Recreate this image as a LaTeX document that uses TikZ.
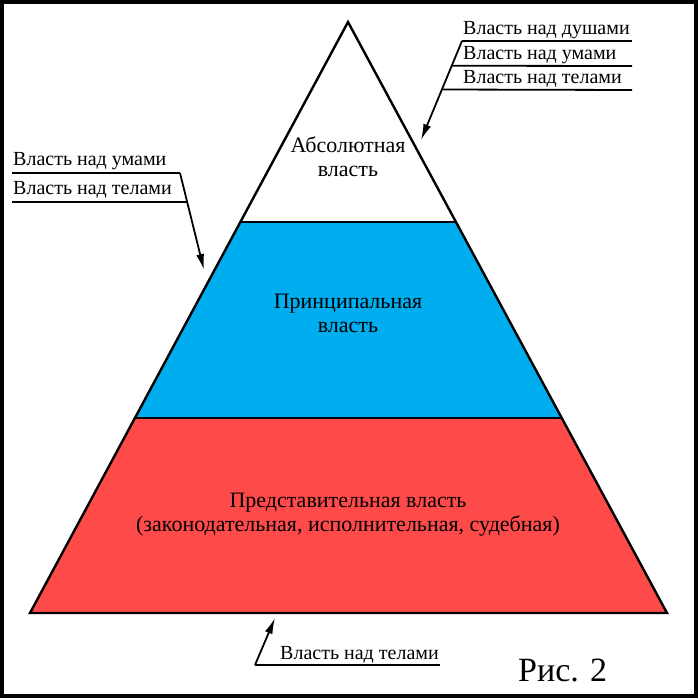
\documentclass[tikz,border=0pt]{standalone}
\usepackage{fontspec}
\setmainfont{Liberation Serif}
\usetikzlibrary{arrows.meta,calc}
\definecolor{tierblue}{HTML}{00AEEF}
\definecolor{tierred}{HTML}{FF4A4A}
\tikzset{
  edge/.style={line width=2.4pt, line join=miter},
  lbl/.style={font=\fontsize{20}{23}\selectfont, inner sep=0pt, anchor=base west},
  tiertext/.style={font=\fontsize{22}{24}\selectfont, align=center, inner sep=0pt},
  uline/.style={line width=1.8pt},
  ptr/.style={line width=1.8pt, -{Latex[length=16pt,width=8pt]}},
}
\begin{document}
\begin{tikzpicture}[x=1pt,y=-1pt]
\useasboundingbox (0,0) rectangle (700,700);
\fill[white] (0,0) rectangle (700,700);
\draw[line width=3.5pt] (2,2) rectangle (696,696);

% pyramid corners
\coordinate (A) at (348,22);
\coordinate (BL) at (30,613);
\coordinate (BR) at (667,613);
\coordinate (L1) at ($(A)!0.3384!(BL)$);
\coordinate (R1) at ($(A)!0.3384!(BR)$);
\coordinate (L2) at ($(A)!0.670!(BL)$);
\coordinate (R2) at ($(A)!0.670!(BR)$);

\fill[white] (A) -- (R1) -- (L1) -- cycle;
\fill[tierblue] (L1) -- (R1) -- (R2) -- (L2) -- cycle;
\fill[tierred] (L2) -- (R2) -- (BR) -- (BL) -- cycle;
\draw[edge] (A) -- (BR) -- (BL) -- cycle;
\draw[edge] (L1) -- (R1);
\draw[edge] (L2) -- (R2);

\node[tiertext] (t1) at (348,157) {Абсолютная\\власть};
\node[tiertext] (t2) at (348,313) {Принципальная\\власть};
\node[tiertext] (t3) at (348,515) {Представительная власть\\(законодательная, исполнительная, судебная)};

% top-right labels
\node[lbl] (r1) at (463,35) {Власть над душами};
\node[lbl] (r2) at (463,60) {Власть над умами};
\node[lbl] (r3) at (463,84) {Власть над телами};
\coordinate (rs) at (462,41);
\coordinate (rtip) at (421,140);
\draw[uline] (rs) -- (632,41);
\draw[uline] ($(rs)!0.25!(rtip)$) -- (632,66);
\draw[uline] ($(rs)!0.49!(rtip)$) -- (632,90);
\draw[ptr] (rs) -- (rtip);

% left labels
\node[lbl] (l1) at (13,166) {Власть над умами};
\node[lbl] (l2) at (13,195) {Власть над телами};
\coordinate (ls) at (180,173);
\coordinate (ltip) at (204,270);
\draw[uline] (12,173) -- (ls);
\draw[uline] (12,202) -- ($(ls)!0.299!(ltip)$);
\draw[ptr] (ls) -- (ltip);

% bottom label
\node[lbl] (b1) at (280,659) {Власть над телами};
\coordinate (bs) at (255,665);
\coordinate (btip) at (275,618);
\draw[uline] (bs) -- (440,665);
\draw[ptr] (bs) -- (btip);

\node[font=\fontsize{34}{38}\selectfont, inner sep=0pt, anchor=base west] (fig) at (518,681) {Рис. 2};
\end{tikzpicture}
\end{document}
